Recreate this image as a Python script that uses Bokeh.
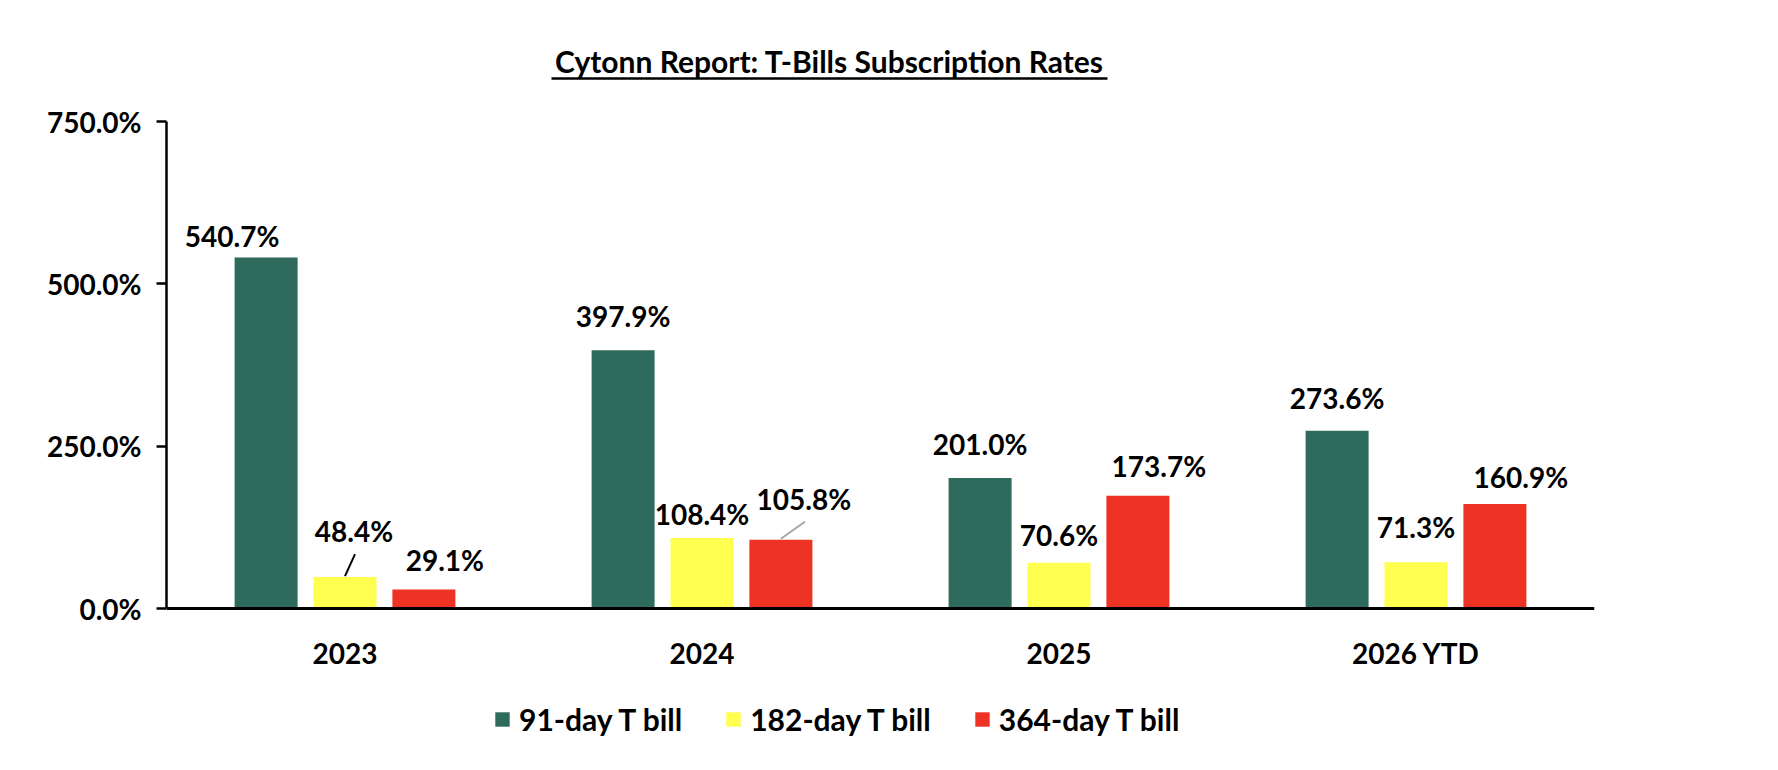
from bokeh.plotting import figure
from bokeh.models import (FactorRange, Range1d, ColumnDataSource, Legend, LegendItem,
                          PrintfTickFormatter, FixedTicker)
from bokeh.transform import dodge
from bokeh.core.properties import value
from bokeh.embed import file_html
from bokeh.resources import INLINE

# ---------------- data ----------------
categories = ["2023", "2024", "2025", "2026 YTD"]
bill_91 = [540.7, 397.9, 201.0, 273.6]
bill_182 = [48.4, 108.4, 70.6, 71.3]
bill_364 = [29.1, 105.8, 173.7, 160.9]
series_names = ["91-day T bill", "182-day T bill", "364-day T bill"]
y_ticks = [0, 250, 500, 750]
title_text = "Cytonn Report: T-Bills Subscription Rates"

# ---------------- style / layout ----------------
colors = ["#2e6b5c", "#ffff50", "#ee3324"]
offsets = [-0.221, 0.0, 0.221]
bar_w = 0.1765
FONT = "Lato"
# label nudges in screen px (dx right, dy down) relative to bar-top centre
label_dx = [[-34, 0, 0, 0], [9, 0, 0, 0], [21, 23, 21, 26]]
label_dy = [[-21, -34, -34, -33], [-46, -24, -28, -35], [-30, -41, -30, -27]]

W, H = 1762, 754
ML, MR, MT, MB = 166, 168, 22, 0
axis_h_px = 487            # pixel height of the 0..750 axis
top_extra_px = 99          # frame space above 750 (holds the title)
bottom_extra_px = 146      # frame space below 0 (holds x labels and legend)
frame_w = W - ML - MR
y_max = y_ticks[-1]
u_per_px = y_max / axis_h_px
cat_px = frame_w / len(categories)
y_end = y_max + top_extra_px * u_per_px
y_start = -bottom_extra_px * u_per_px

p = figure(width=W, height=H, x_range=FactorRange(factors=categories),
           y_range=Range1d(y_start, y_end), output_backend="svg", toolbar_location=None,
           min_border_left=ML, min_border_right=MR, min_border_top=MT, min_border_bottom=MB)
p.background_fill_color = "white"
p.border_fill_color = "white"
p.outline_line_color = None
p.xgrid.grid_line_color = None
p.ygrid.grid_line_color = None

series = [bill_91, bill_182, bill_364]
renderers = []
for i, vals in enumerate(series):
    src = ColumnDataSource(dict(
        cat=categories, val=vals, label=[f"{v:.1f}%" for v in vals],
        dx=label_dx[i], dy=label_dy[i]))
    r = p.vbar(x=dodge("cat", offsets[i], range=p.x_range), top="val", width=bar_w,
               source=src, fill_color=colors[i], line_color=None)
    renderers.append(r)
    p.text(x=dodge("cat", offsets[i], range=p.x_range), y="val", text="label",
           x_offset="dx", y_offset="dy", source=src, text_align="center",
           text_baseline="middle", text_font=value(FONT), text_font_style="bold",
           text_font_size="28px", text_color="black")

# leader lines
lead1 = ColumnDataSource(dict(cat=[categories[0]], y0=[bill_182[0] + 1 * u_per_px],
                              y1=[bill_182[0] + 23 * u_per_px]))
p.segment(x0=dodge("cat", offsets[1], range=p.x_range),
          x1=dodge("cat", offsets[1] + 10 / cat_px, range=p.x_range),
          y0="y0", y1="y1", source=lead1, line_color="black", line_width=2)
lead2 = ColumnDataSource(dict(cat=[categories[1]], y0=[bill_364[1] + 1 * u_per_px],
                              y1=[bill_364[1] + 18 * u_per_px]))
p.segment(x0=dodge("cat", offsets[2], range=p.x_range),
          x1=dodge("cat", offsets[2] + 24 / cat_px, range=p.x_range),
          y0="y0", y1="y1", source=lead2, line_color="#a6a6a6", line_width=2)

# title (inside the frame's top strip) with underline
title_cx_px = 663          # centre, px from frame left
title_w_px = 556
title_y = y_end - 38 * u_per_px
uline_y = y_end - 56 * u_per_px
p.text(x=[title_cx_px / cat_px], y=[title_y], text=[title_text], text_align="center",
       text_baseline="middle", text_font=value(FONT), text_font_style="bold",
       text_font_size="30px", text_color="black")
p.segment(x0=[(title_cx_px - title_w_px / 2) / cat_px], x1=[(title_cx_px + title_w_px / 2) / cat_px],
          y0=[uline_y], y1=[uline_y], line_color="black", line_width=2.5)

# axes
p.xaxis.fixed_location = 0
p.xaxis.axis_line_width = 3
p.xaxis.axis_line_color = "black"
p.xaxis.major_tick_line_color = None
p.xaxis.minor_tick_line_color = None
p.xaxis.major_label_text_font = FONT
p.xaxis.major_label_text_font_style = "bold"
p.xaxis.major_label_text_font_size = "28px"
p.xaxis.major_label_text_color = "black"
p.xaxis.major_label_standoff = 21

p.yaxis.ticker = FixedTicker(ticks=y_ticks)
p.yaxis.bounds = (0, y_max)
p.yaxis.formatter = PrintfTickFormatter(format="%.1f%%")
p.yaxis.axis_line_width = 2.5
p.yaxis.axis_line_color = "black"
p.yaxis.major_tick_line_width = 2.5
p.yaxis.major_tick_line_color = "black"
p.yaxis.major_tick_out = 10
p.yaxis.major_tick_in = 0
p.yaxis.minor_tick_line_color = None
p.yaxis.major_label_text_font = FONT
p.yaxis.major_label_text_font_style = "bold"
p.yaxis.major_label_text_font_size = "28px"
p.yaxis.major_label_text_color = "black"
p.yaxis.major_label_standoff = 15

# legend
legend = Legend(items=[LegendItem(label=series_names[i], renderers=[renderers[i]]) for i in range(3)],
                orientation="horizontal", location=(327, 17),
                glyph_width=18, glyph_height=18, label_standoff=8, spacing=42,
                padding=0, margin=0, border_line_color=None, background_fill_alpha=0,
                label_text_font=FONT, label_text_font_style="bold",
                label_text_font_size="30px", label_text_color="black")
p.add_layout(legend, "center")

open("out.html", "w").write(file_html(p, INLINE))
